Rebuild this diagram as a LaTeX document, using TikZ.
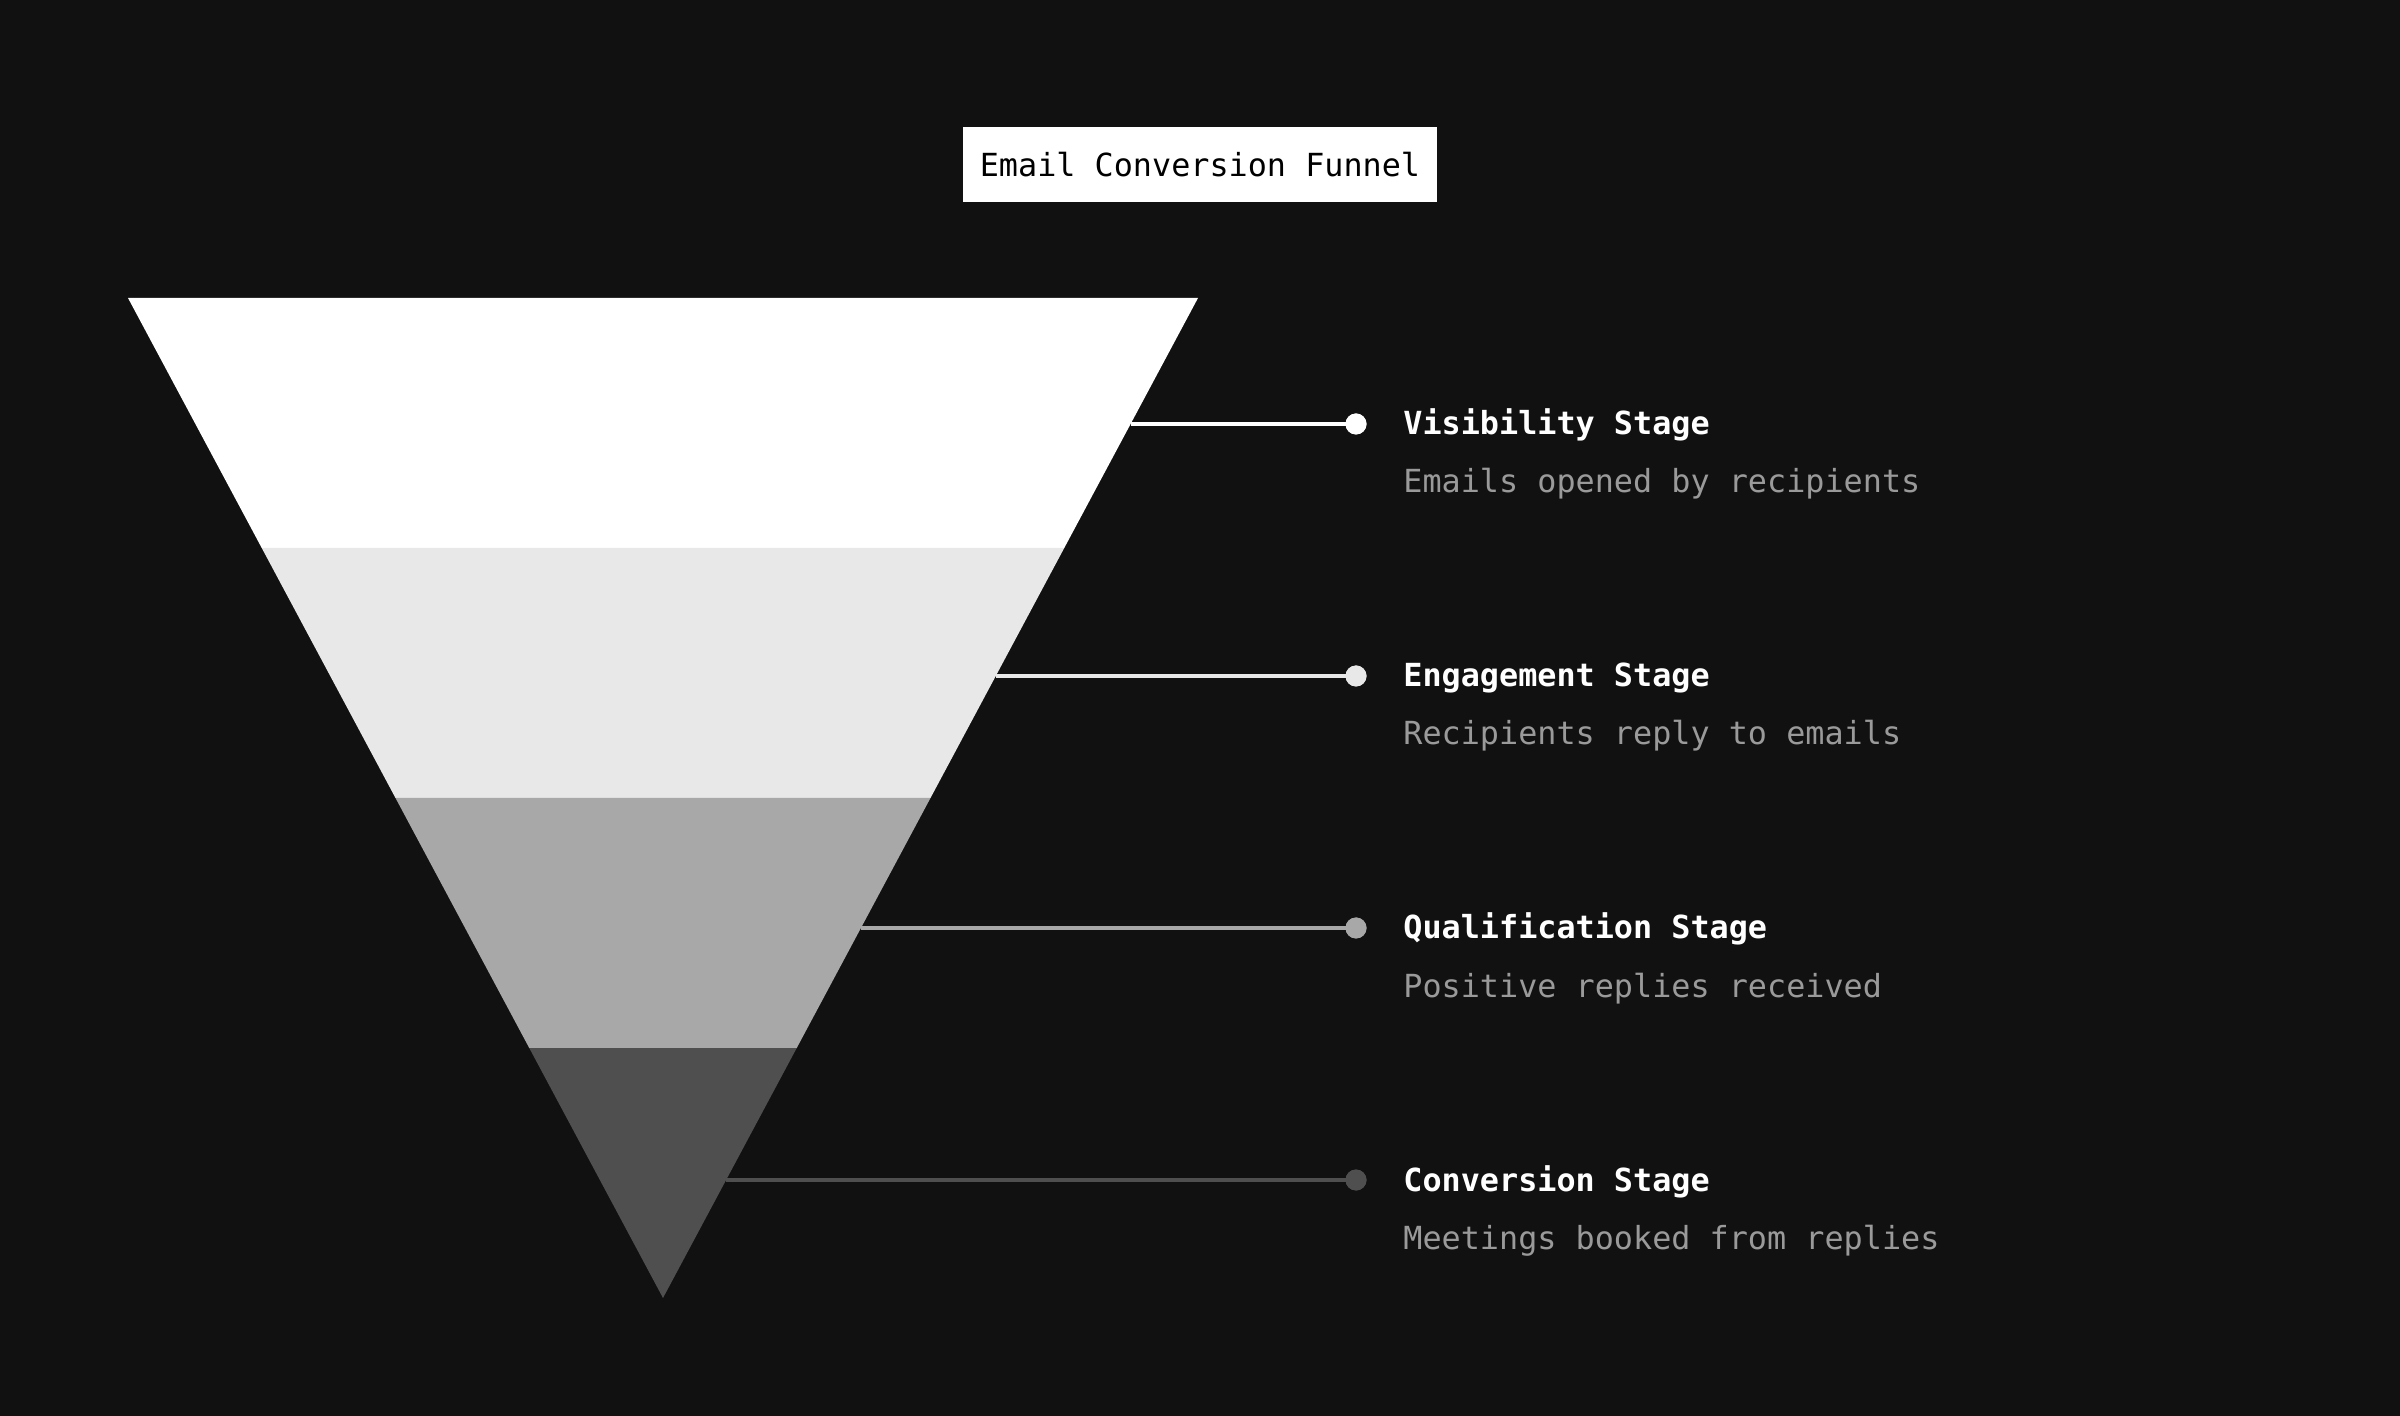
\documentclass[tikz,border=0pt]{standalone}
\usepackage{fontspec}
\newfontfamily\monofnt{DejaVu Sans Mono}
\definecolor{bg}{HTML}{111111}
\definecolor{bandA}{HTML}{FFFFFF}
\definecolor{bandB}{HTML}{E8E8E8}
\definecolor{bandC}{HTML}{A8A8A8}
\definecolor{bandD}{HTML}{4F4F4F}
\definecolor{desc}{HTML}{9A9A9A}
\tikzset{
  txt/.style={font=\monofnt\fontsize{15.9pt}{18pt}\selectfont, inner sep=0pt, anchor=base west},
  head/.style={txt, text=white, font=\monofnt\bfseries\fontsize{15.9pt}{18pt}\selectfont},
  sub/.style={txt, text=desc},
  dotnode/.style={circle, fill=#1, inner sep=0pt, minimum size=10.5pt},
  leader/.style={draw=#1, line width=2pt}
}
\begin{document}
\begin{tikzpicture}[x=0.5pt,y=-0.5pt]
\fill[bg] (0,0) rectangle (2400,1416);
\useasboundingbox (0,0) rectangle (2400,1416);
% title
\node[fill=white, minimum width=237pt, minimum height=37.5pt, inner sep=0pt] (titlebox) at (1200,164.5) {};
\node[txt, anchor=base, text=black] (title) at (1200,177) {Email Conversion Funnel};
% funnel bands
\fill[bandA] (128,298) -- (1198,298) -- (1064.25,548) -- (261.75,548) -- cycle;
\fill[bandB] (261.75,548) -- (1064.25,548) -- (930.5,798) -- (395.5,798) -- cycle;
\fill[bandC] (395.5,798) -- (930.5,798) -- (796.75,1048) -- (529.25,1048) -- cycle;
\fill[bandD] (529.25,1048) -- (796.75,1048) -- (663,1298) -- cycle;
% edge coordinates
\coordinate (e1) at (1130.6,424);
\coordinate (e2) at (995.8,676);
\coordinate (e3) at (861,928);
\coordinate (e4) at (726.1,1180);
% dots
\node[dotnode=bandA] (d1) at (1356,424) {};
\node[dotnode=bandB] (d2) at (1356,676) {};
\node[dotnode=bandC] (d3) at (1356,928) {};
\node[dotnode=bandD] (d4) at (1356,1180) {};
\draw[leader=bandA] (e1) -- (d1.center);
\draw[leader=bandB] (e2) -- (d2.center);
\draw[leader=bandC] (e3) -- (d3.center);
\draw[leader=bandD] (e4) -- (d4.center);
\node[dotnode=bandA] at (d1) {};
\node[dotnode=bandB] at (d2) {};
\node[dotnode=bandC] at (d3) {};
\node[dotnode=bandD] at (d4) {};
% labels
\node[head] (h1) at (1403,435) {Visibility Stage};
\node[sub]  (s1) at (1403,493) {Emails opened by recipients};
\node[head] (h2) at (1403,687) {Engagement Stage};
\node[sub]  (s2) at (1403,745) {Recipients reply to emails};
\node[head] (h3) at (1403,939) {Qualification Stage};
\node[sub]  (s3) at (1403,997) {Positive replies received};
\node[head] (h4) at (1403,1191) {Conversion Stage};
\node[sub]  (s4) at (1403,1249) {Meetings booked from replies};
\end{tikzpicture}
\end{document}
